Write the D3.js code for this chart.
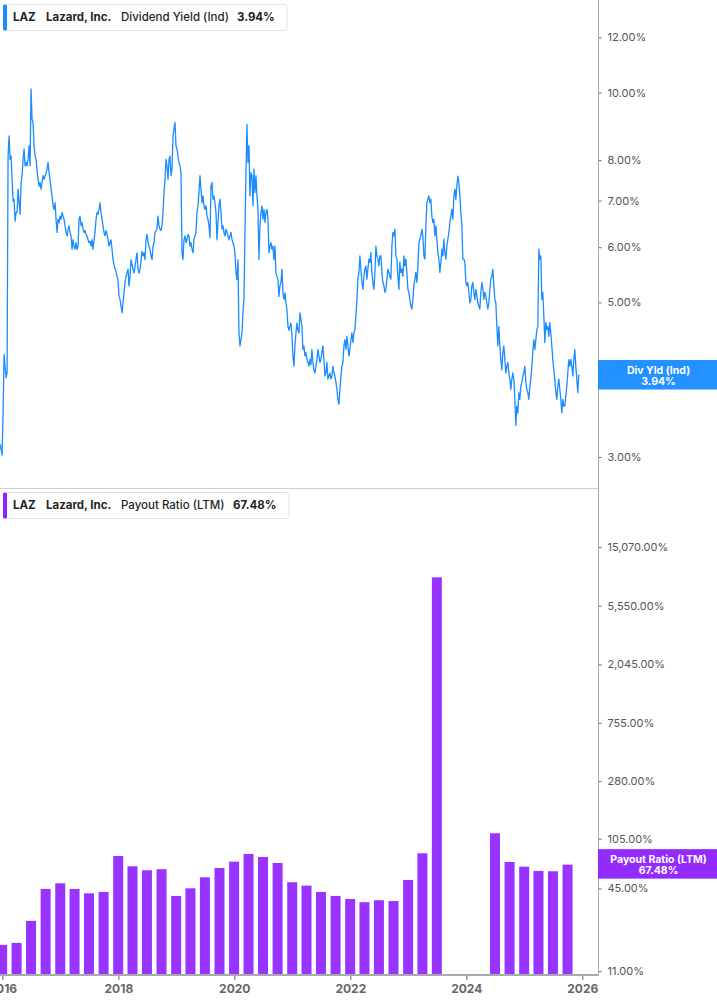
<!DOCTYPE html>
<html><head><meta charset="utf-8">
<script src="https://cdn.jsdelivr.net/npm/d3@7"></script>
<style>
body{margin:0;background:#fff;}
svg{display:block;font-family:Inter,"Noto Sans",sans-serif;}
</style>
</head><body>
<svg id="chart" width="717" height="1005"></svg>
<script>
// ---------------- data ----------------
const ticker = "LAZ";
const company = "Lazard, Inc.";
const yieldLabel = "Dividend Yield (Ind)";
const yieldShort = "Div Yld (Ind)";
const yieldLast = 3.94;
const payoutLabel = "Payout Ratio (LTM)";
const payoutLast = 67.48;

// dividend yield samples, evenly spaced from start to end date
const yieldStart = "2015-12-18";
const yieldEnd = "2025-12-10";
const yieldValues = [
3.13,3.08,3.02,3.47,4.21,4.04,3.90,3.96,
8.11,8.67,8.02,8.11,7.51,6.99,7.03,6.54,6.73,6.73,7.27,6.95,6.69,7.43,7.60,8.02,8.30,7.85,7.94,7.85,8.02,8.39,7.85,10.12,9.16,9.06,8.39,8.11,8.02,7.72,
7.51,7.34,7.43,7.27,7.43,7.6,7.51,7.6,7.67,7.77,
7.94,7.67,7.51,7.27,7.11,6.88,6.8,6.95,6.58,6.3,
6.58,6.51,6.65,6.58,6.73,6.65,6.58,6.44,6.3,6.23,
6.37,6.44,6.3,6.23,5.96,6.15,6.02,5.96,6.09,5.96,
6.02,6.58,6.65,6.44,6.51,6.37,6.3,6.34,6.26,6.23,
6.15,6.09,6.12,6.02,6.15,5.96,6.15,6.3,6.58,6.73,
6.69,6.8,6.95,6.73,6.58,6.44,6.3,6.23,6.34,6.26,
6.15,6.02,6.09,6.15,5.96,5.76,5.67,5.58,5.54,5.45,
5.39,5.1,5.05,4.94,4.83,4.99,5.16,5.34,5.45,5.51,
5.58,5.28,5.45,5.76,5.67,5.58,5.51,5.63,5.76,5.89,
5.58,5.51,5.58,5.73,5.92,5.83,5.89,5.76,6.15,6.26,
6.09,6.02,5.96,5.83,5.76,6.02,6.09,6.3,6.34,6.37,
6.65,6.44,6.37,6.34,6.44,6.73,7.19,7.51,8.02,7.85,
7.51,8.02,8.11,7.6,7.77,8.67,8.87,9.06,8.39,8.3,
8.11,7.94,7.85,7.67,5.89,5.76,6.15,6.23,6.09,6.15,
6.26,6.23,6.02,6.09,5.96,5.89,6.15,6.23,6.3,6.73,
6.88,7.19,7.6,7.27,6.95,7.11,6.88,6.8,6.88,6.65,
6.58,6.44,6.19,7.34,7.43,7.03,7.11,6.95,6.73,6.15,
6.51,6.88,7.03,6.73,6.37,6.44,6.3,6.23,6.37,6.3,
6.23,6.15,6.23,6.3,6.15,6.09,6.02,5.89,5.51,5.39,
5.76,4.52,4.33,4.42,4.52,4.83,5.05,6.3,7.67,9.0,
7.94,8.39,7.11,7.67,7.6,6.88,7.77,7.19,7.6,7.11,
6.8,5.76,
6.44,6.73,6.88,6.58,6.8,6.51,6.73,6.8,6.58,5.89,
6.02,6.09,5.96,6.02,5.76,6.02,5.51,5.45,5.39,5.1,
5.28,5.34,5.58,5.16,5.05,5.16,4.99,4.88,4.62,4.56,
4.62,4.67,4.48,4.19,4.05,4.33,4.52,4.67,4.56,4.52,
4.83,4.73,4.62,4.28,4.33,4.19,4.24,4.14,4.10,4.05,
4.14,4.07,4.28,4.10,4.00,3.96,4.05,4.14,4.28,4.19,
4.10,4.14,4.24,4.33,4.14,3.92,3.96,4.10,3.88,3.92,
3.96,3.88,3.92,4.05,3.96,3.92,3.84,3.75,3.63,3.57,
3.75,3.92,4.05,4.10,4.33,4.42,4.28,4.47,4.33,4.19,
4.28,4.42,4.52,4.38,4.52,4.57,4.78,5.05,5.40,5.52,
5.83,5.58,5.34,5.22,5.45,5.58,5.64,5.40,5.58,5.77,
5.71,5.90,5.52,5.34,5.22,5.52,6.02,5.83,5.77,5.64,
5.83,5.83,5.52,5.34,5.28,5.17,5.22,5.40,5.58,5.52,
5.45,5.40,6.02,6.30,6.23,6.37,5.83,5.77,5.45,5.22,
5.71,5.52,5.58,5.45,5.83,5.64,5.77,5.52,5.22,5.17,
5.05,4.94,4.89,5.05,5.28,5.40,5.52,5.34,5.64,6.09,
6.16,6.23,6.37,6.23,5.83,5.77,6.44,6.95,7.03,7.11,
6.95,7.03,6.65,6.51,6.58,6.23,6.44,6.16,5.90,5.77,
5.52,5.71,5.96,5.83,6.16,5.90,5.77,6.02,6.16,6.30,
6.51,6.65,6.80,6.58,7.11,7.27,7.03,7.35,7.59,7.43,
7.11,6.73,6.44,5.77,5.77,5.71,5.34,5.28,5.34,5.17,
4.99,5.05,5.28,5.34,5.17,5.05,5.22,5.11,4.99,4.94,
4.89,5.17,5.34,5.22,5.05,5.17,5.11,4.99,4.89,4.99,
5.22,5.40,5.45,5.58,5.28,5.05,4.99,4.62,4.33,4.62,
4.33,4.14,4.00,4.24,4.33,4.14,3.96,4.05,4.10,3.96,
3.88,3.75,3.88,3.96,3.88,3.63,3.33,3.55,3.47,3.71,
3.63,3.79,3.84,3.92,3.96,4.05,3.84,3.75,3.71,3.63,
3.79,3.88,4.05,4.24,4.42,4.28,4.42,4.57,4.62,5.96,
5.77,5.83,5.05,5.17,4.78,4.38,4.68,4.57,4.62,4.47,
4.68,4.52,4.33,4.14,4.00,3.88,3.71,3.63,3.79,3.88,
3.75,3.63,3.47,3.63,3.55,3.55,3.67,3.79,3.96,4.14,
4.05,4.14,4.05,3.92,4.14,4.28,4.05,3.88,3.71,3.94
];

const payoutDates = [
"2015-12-31","2016-03-31","2016-06-30","2016-09-30","2016-12-31",
"2017-03-31","2017-06-30","2017-09-30","2017-12-31",
"2018-03-31","2018-06-30","2018-09-30","2018-12-31",
"2019-03-31","2019-06-30","2019-09-30","2019-12-31",
"2020-03-31","2020-06-30","2020-09-30","2020-12-31",
"2021-03-31","2021-06-30","2021-09-30","2021-12-31",
"2022-03-31","2022-06-30","2022-09-30","2022-12-31",
"2023-03-31","2023-06-30","2023-09-30","2023-12-31",
"2024-03-31","2024-06-30","2024-09-30","2024-12-31",
"2025-03-31","2025-06-30","2025-09-30"
];
const payoutValues = [
17.2,17.8,25.9,44.6,49.1,
44.6,41.4,42.4,78.2,
65.6,61.3,62.4,39.6,
45.1,54.4,63.7,71.0,
80.9,76.9,69.4,50.0,
47.2,42.4,39.6,37.6,
35.6,36.8,36.3,52.0,
81.9,9008,null,null,
null,115.1,70.6,65.2,
60.6,60.3,67.48
];

const yearTicks = [2016,2018,2020,2022,2024,2026];
const yieldTicks = [3,4,5,6,7,8,10,12];
const payoutTicks = [11,45,105,280,755,2045,5550,15070];

// ---------------- layout ----------------
const W = 717, H = 1005;
const axisX = 598.5;
const topPanel = {y0: 0, y1: 488};
const botPanel = {y0: 489, y1: 975};
const blue = "#1a8cff", purple = "#9933ff", purpleLbl = "#8f22ff";
const FONT = "Inter,'Noto Sans',sans-serif";

const svg = d3.select("#chart");
const parse = d3.utcParse("%Y-%m-%d");

const x = d3.scaleUtc()
  .domain([Date.UTC(2016,0,1), Date.UTC(2026,0,1)])
  .range([2.3, 582.3]);

const yTop = d3.scaleLog().domain([2.708, 13.58]).range([topPanel.y1, topPanel.y0]);
const yBot = d3.scaleLog().domain([10.3, 40530]).range([botPanel.y1, botPanel.y0]);

const defs = svg.append("defs");
defs.append("clipPath").attr("id","clipTop").append("rect")
  .attr("x",0).attr("y",0).attr("width",axisX).attr("height",topPanel.y1);
defs.append("clipPath").attr("id","clipBot").append("rect")
  .attr("x",0).attr("y",botPanel.y0).attr("width",axisX).attr("height",botPanel.y1-botPanel.y0);

// ---------- top: dividend yield line ----------
const t0 = parse(yieldStart).getTime(), t1 = parse(yieldEnd).getTime();
const n = yieldValues.length;
const yieldData = yieldValues.map((v,i)=>({date:new Date(t0 + i*(t1-t0)/(n-1)), v}));

svg.append("path")
  .datum(yieldData)
  .attr("clip-path","url(#clipTop)")
  .attr("fill","none")
  .attr("stroke",blue)
  .attr("stroke-width",1.3)
  .attr("stroke-linejoin","round")
  .attr("d", d3.line().x(d=>x(d.date)).y(d=>yTop(d.v)));

svg.append("line").attr("x1",0).attr("x2",axisX).attr("y1",488.5).attr("y2",488.5)
  .attr("stroke","#cfcfcf").attr("stroke-width",1);

// ---------- bottom: payout bars ----------
const payoutData = payoutDates.map((d,i)=>({date:parse(d), v:payoutValues[i]})).filter(d=>d.v!=null);
const barW = 10;
svg.append("g").attr("clip-path","url(#clipBot)")
  .selectAll("rect").data(payoutData).join("rect")
  .attr("x", d=>x(d.date)-barW/2)
  .attr("width", barW)
  .attr("y", d=>yBot(d.v))
  .attr("height", d=>yBot.range()[0]-yBot(d.v))
  .attr("fill", purple);

// ---------- axes ----------
function styleAxis(g){
  g.select(".domain").remove();
  g.selectAll(".tick line").attr("stroke","#666");
  g.selectAll(".tick text").attr("fill","#555").style("font-size","11px").style("font-family",FONT);
}
const axTop = svg.append("g").attr("transform",`translate(${axisX},0)`)
  .call(d3.axisRight(yTop).tickValues(yieldTicks).tickFormat(d=>d.toFixed(2)+"%").tickSize(3).tickPadding(6));
styleAxis(axTop);
const axBot = svg.append("g").attr("transform",`translate(${axisX},0)`)
  .call(d3.axisRight(yBot).tickValues(payoutTicks).tickFormat(d=>d3.format(",.2f")(d)+"%").tickSize(3).tickPadding(6));
styleAxis(axBot);

svg.append("line").attr("x1",axisX).attr("x2",axisX).attr("y1",0).attr("y2",botPanel.y1)
  .attr("stroke","#a8a8a8").attr("stroke-width",1);

const axX = svg.append("g").attr("transform",`translate(0,${botPanel.y1})`)
  .call(d3.axisBottom(x).tickValues(yearTicks.map(y=>Date.UTC(y,0,1))).tickFormat(d3.utcFormat("%Y")).tickSize(5).tickPadding(4));
axX.select(".domain").remove();
axX.selectAll(".tick line").attr("stroke","#999").attr("stroke-width",1.5);
axX.selectAll(".tick text").attr("fill","#666").style("font-size","12px").style("font-weight","700")
  .style("font-family",FONT);
svg.append("line").attr("x1",0).attr("x2",axisX).attr("y1",botPanel.y1).attr("y2",botPanel.y1)
  .attr("stroke","#aaa").attr("stroke-width",2);

// ---------- right value tags ----------
function valueTag(cy, color, l1, l2){
  const g = svg.append("g");
  g.append("rect").attr("x",axisX-0.5).attr("y",cy-14.5).attr("width",W-axisX+0.5).attr("height",29.5)
    .attr("fill",color).attr("opacity",0.96);
  g.append("text").attr("x",658.5).attr("y",cy-1).attr("text-anchor","middle")
    .attr("fill","#fff").style("font-size","10.5px").style("font-weight","700").text(l1);
  g.append("text").attr("x",658.5).attr("y",cy+10.5).attr("text-anchor","middle")
    .attr("fill","#fff").style("font-size","10.5px").style("font-weight","700").text(l2);
}
valueTag(yTop(yieldLast), blue, yieldShort, yieldLast.toFixed(2)+"%");
valueTag(yBot(payoutLast)-1, purpleLbl, payoutLabel, payoutLast.toFixed(2)+"%");

// ---------- legends ----------
function legend(y0, color, label, value, xs, boxW){
  const g = svg.append("g");
  g.append("rect").attr("x",3.5).attr("y",y0+0.5).attr("width",boxW).attr("height",26).attr("rx",3)
    .attr("fill","#fff").attr("stroke","#e4e4e4");
  g.append("rect").attr("x",3).attr("y",y0+0.5).attr("width",4).attr("height",26).attr("rx",1.5).attr("fill",color);
  const parts = [[ticker,700],[company,700],[label,500],[value,700]];
  parts.forEach((p,i)=>{
    g.append("text").attr("x",xs[i]).attr("y",y0+17).attr("fill","#1f1f1f")
      .style("font-size","11.5px").style("font-weight",p[1]).text(p[0]);
  });
}
legend(4, blue, yieldLabel, yieldLast.toFixed(2)+"%", [13,46,121,237], 283.5);
legend(492, purpleLbl, payoutLabel, payoutLast.toFixed(2)+"%", [13,46,121,233], 285.5);
</script>
</body></html>
